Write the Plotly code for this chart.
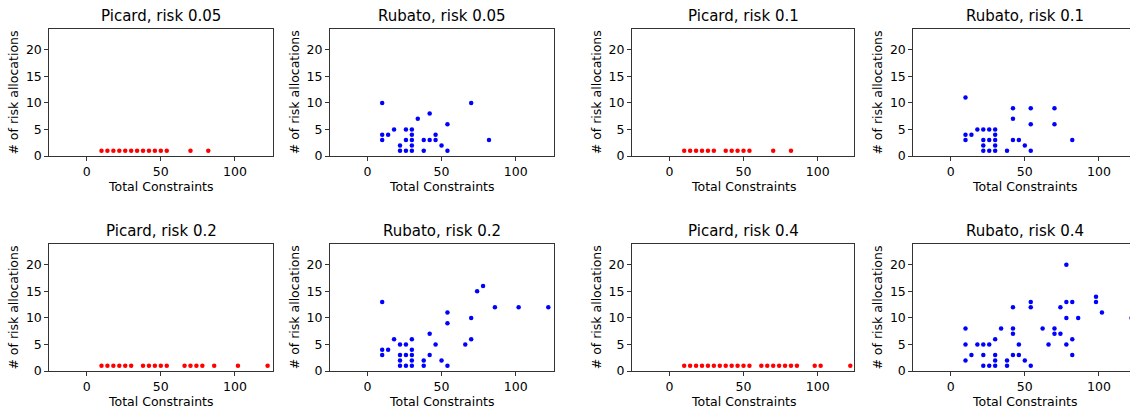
import plotly.graph_objects as go

# ---------------- data ----------------
picard_005_x = [10, 14, 18, 22, 26, 30, 34, 38, 42, 46, 50, 54, 70, 82]
picard_005_y = [1, 1, 1, 1, 1, 1, 1, 1, 1, 1, 1, 1, 1, 1]

rubato_005_x = [10, 10, 10, 14, 18, 22, 22, 26, 26, 26, 30, 30, 30, 30, 30,
                34, 38, 38, 42, 42, 46, 46, 50, 54, 54, 70, 82]
rubato_005_y = [10, 4, 3, 4, 5, 2, 1, 5, 3, 1, 5, 4, 3, 2, 1,
                7, 3, 1, 8, 3, 4, 3, 2, 6, 1, 10, 3]

picard_01_x = [10, 14, 18, 22, 26, 30, 38, 42, 46, 50, 54, 70, 82]
picard_01_y = [1, 1, 1, 1, 1, 1, 1, 1, 1, 1, 1, 1, 1]

rubato_01_x = [10, 10, 10, 14, 18, 22, 22, 22, 22, 26, 26, 26, 30, 30, 30, 30, 30,
               38, 42, 42, 42, 46, 50, 54, 54, 54, 70, 70, 82]
rubato_01_y = [11, 4, 3, 4, 5, 5, 3, 2, 1, 5, 3, 1, 5, 4, 3, 2, 1,
               1, 9, 7, 3, 3, 2, 9, 6, 1, 9, 6, 3]

picard_02_x = [10, 14, 18, 22, 26, 30, 38, 42, 46, 50, 54, 66, 70, 74, 78, 86, 102, 122]
picard_02_y = [1, 1, 1, 1, 1, 1, 1, 1, 1, 1, 1, 1, 1, 1, 1, 1, 1, 1]

rubato_02_x = [10, 10, 10, 14, 18, 22, 22, 22, 22, 26, 26, 26, 30, 30, 30, 30, 30,
               38, 38, 42, 42, 46, 50, 54, 54, 54, 66, 70, 70, 74, 78, 86, 102, 122]
rubato_02_y = [13, 4, 3, 4, 6, 5, 3, 2, 1, 5, 3, 1, 6, 4, 3, 2, 1,
               2, 1, 7, 3, 5, 2, 11, 9, 1, 5, 10, 6, 15, 16, 12, 12, 12]

picard_04_x = [10, 14, 18, 22, 26, 30, 34, 38, 42, 46, 50, 54, 62, 66, 70, 74, 78,
               82, 86, 98, 102, 122]
picard_04_y = [1, 1, 1, 1, 1, 1, 1, 1, 1, 1, 1, 1, 1, 1, 1, 1, 1, 1, 1, 1, 1, 1]

rubato_04_x = [10, 10, 10, 14, 18, 22, 22, 22, 26, 26, 30, 30, 30, 30, 34, 38, 38,
               42, 42, 42, 42, 46, 46, 50, 54, 54, 54, 62, 66, 70, 70, 74, 74,
               78, 78, 78, 78, 82, 82, 82, 86, 98, 98, 102, 122]
rubato_04_y = [8, 5, 2, 3, 5, 5, 3, 1, 5, 1, 6, 3, 2, 1, 8, 2, 1,
               12, 8, 7, 3, 5, 3, 2, 13, 12, 1, 8, 5, 8, 7, 12, 7,
               20, 13, 10, 5, 13, 6, 3, 10, 14, 13, 11, 10]

titles = ["Picard, risk 0.05", "Rubato, risk 0.05", "Picard, risk 0.1", "Rubato, risk 0.1",
          "Picard, risk 0.2", "Rubato, risk 0.2", "Picard, risk 0.4", "Rubato, risk 0.4"]
x_ticks = [0, 50, 100]
y_ticks = [0, 5, 10, 15, 20]
x_label = "Total Constraints"
y_label = "# of risk allocations"

series = [
    (picard_005_x, picard_005_y, "red"),
    (rubato_005_x, rubato_005_y, "blue"),
    (picard_01_x, picard_01_y, "red"),
    (rubato_01_x, rubato_01_y, "blue"),
    (picard_02_x, picard_02_y, "red"),
    (rubato_02_x, rubato_02_y, "blue"),
    (picard_04_x, picard_04_y, "red"),
    (rubato_04_x, rubato_04_y, "blue"),
]

# ---------------- layout ----------------
W, H = 1130, 420
col_left = [49.3, 330.0, 632.0, 913.3]
col_right = [272.7, 554.0, 854.3, 1130.0]
row_top = [29.0, 247.7]
row_bottom = [158.7, 377.3]
px_per_unit = 1.483
x_min = -25.2
y_range = [0, 24]
LINE = "#333333"

FONT = "DejaVu Sans"
fig = go.Figure()
annotations = []
layout = dict(
    width=W, height=H,
    margin=dict(l=0, r=0, t=0, b=0),
    paper_bgcolor="white", plot_bgcolor="white",
    showlegend=False,
    font=dict(family=FONT, size=12.5, color="black"),
)

for i, (xs, ys, col) in enumerate(series):
    r, c = divmod(i, 4)
    n = i + 1
    xa = "xaxis" if n == 1 else f"xaxis{n}"
    ya = "yaxis" if n == 1 else f"yaxis{n}"
    xref = "x" if n == 1 else f"x{n}"
    yref = "y" if n == 1 else f"y{n}"
    fig.add_trace(go.Scatter(x=xs, y=ys, mode="markers", xaxis=xref, yaxis=yref,
                             marker=dict(color=col, size=4.5, line=dict(width=0))))
    l, rr = col_left[c], col_right[c]
    t, b = row_top[r], row_bottom[r]
    x_max = x_min + (rr - l) / px_per_unit
    layout[xa] = dict(
        domain=[l / W, rr / W], range=[x_min, x_max], anchor=yref,
        showline=True, linecolor=LINE, linewidth=1, mirror=True,
        ticks="outside", ticklen=4, tickwidth=1, tickcolor=LINE,
        tickvals=x_ticks, showgrid=False, zeroline=False,
        tickfont=dict(family=FONT, size=12.5, color="black"),
    )
    layout[ya] = dict(
        domain=[1 - b / H, 1 - t / H], range=y_range, anchor=xref,
        showline=True, linecolor=LINE, linewidth=1, mirror=(c != 3),
        ticks="outside", ticklen=4, tickwidth=1, tickcolor=LINE,
        tickvals=y_ticks, showgrid=False, zeroline=False,
        tickfont=dict(family=FONT, size=12.5, color="black"),
    )
    cx = (l + (l + 223.5)) / 2
    annotations.append(dict(text=titles[i], x=cx / W, y=1 - (t - 13) / H,
                            xref="paper", yref="paper", showarrow=False,
                            xanchor="center", yanchor="middle",
                            font=dict(family=FONT, size=15, color="black")))
    annotations.append(dict(text=x_label, x=cx / W, y=1 - (b + 31.4) / H,
                            xref="paper", yref="paper", showarrow=False,
                            xanchor="center", yanchor="middle",
                            font=dict(family=FONT, size=12.5, color="black")))
    annotations.append(dict(text=y_label, x=(l - 36) / W, y=1 - ((t + b) / 2) / H,
                            xref="paper", yref="paper", showarrow=False, textangle=-90,
                            xanchor="center", yanchor="middle",
                            font=dict(family=FONT, size=12.5, color="black")))

layout["annotations"] = annotations
fig.update_layout(**layout)
fig.write_html("out.html")
